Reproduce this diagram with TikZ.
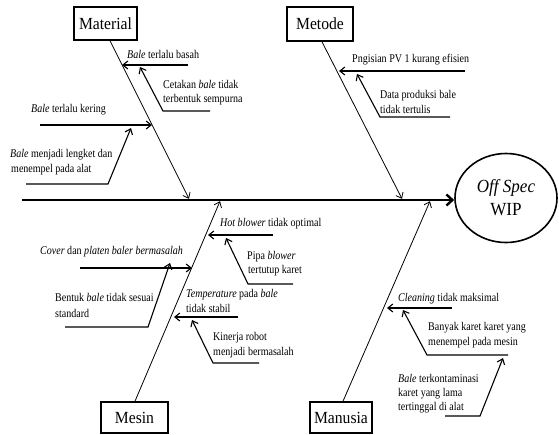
\documentclass[tikz,border=0pt]{standalone}
\usepackage{fontspec}
\setmainfont{Liberation Serif}[FakeStretch=0.92]
\newfontfamily\causefont{Liberation Serif}[FakeStretch=0.85]
\usetikzlibrary{arrows.meta,shapes.geometric}
\begin{document}
\begin{tikzpicture}[x=1pt,y=-1pt,
  catbox/.style={draw,line width=1.6pt,inner sep=0pt,font=\fontsize{17}{20}\selectfont},
  bone/.style={line width=0.8pt,-{Straight Barb[length=5pt,width=8pt]}},
  sub/.style={line width=1.1pt,-{Straight Barb[length=5pt,width=8pt]}},
  lbl/.style={anchor=base west,inner sep=0pt,font=\causefont\fontsize{11.8}{14}\selectfont},
]
\useasboundingbox (0,0) rectangle (559,434);
% category boxes
\node[catbox,minimum width=63pt,minimum height=33pt] (material) at (105.5,23.5) {Material};
\node[catbox,minimum width=66pt,minimum height=34pt] (metode) at (320,24) {Metode};
\node[catbox,minimum width=67pt,minimum height=31pt] (mesin) at (134.5,417.5) {Mesin};
\node[catbox,minimum width=62pt,minimum height=31pt] (manusia) at (341,417.5) {Manusia};
% effect
\node[draw,ellipse,line width=1.6pt,minimum width=102pt,minimum height=89pt,inner sep=0pt,
      align=center,font=\fontsize{18.5}{23}\selectfont] (effect) at (506,198) {\textit{Off Spec}\\WIP};
% spine
\coordinate (tail) at (22,200);
\draw[line width=2.4pt,-{Straight Barb[length=6pt,width=11pt]}] (tail) -- (tail -| effect.west);
% bones
\coordinate (matTip) at (189,198.8);
\coordinate (metTip) at (402,198.8);
\coordinate (mesTip) at (220,201.2);
\coordinate (manTip) at (430,201.2);
\draw[bone] ([xshift=4.5pt]material.south) -- (matTip);
\draw[bone] ([xshift=2pt]metode.south) -- (metTip);
\draw[bone] ([xshift=0.5pt]mesin.north) -- (mesTip);
\draw[bone] ([xshift=2pt]manusia.north) -- (manTip);
% Material causes
\node[lbl] (t1) at (127,58) {\textit{Bale} terlalu basah};
\coordinate (a1s) at (188,65); \coordinate (a1e) at (122,65);
\draw[sub] (a1s) -- (a1e);
\node[lbl] (t2a) at (163,88) {Cetakan \textit{bale} tidak};
\node[lbl] (t2b) at (163,102) {terbentuk sempurna};
\coordinate (a2s) at (210,111); \coordinate (a2m) at (163,111); \coordinate (a2e) at (140,67);
\draw[sub] (a2s) -- (a2m) -- (a2e);
\node[lbl] (t3) at (31,112) {\textit{Bale} terlalu kering};
\coordinate (a3s) at (40,125); \coordinate (a3e) at (152,125);
\draw[sub] (a3s) -- (a3e);
\node[lbl] (t4a) at (10,157) {\textit{Bale} menjadi lengket dan};
\node[lbl] (t4b) at (11,172) {menempel pada alat};
\coordinate (a4s) at (26,184); \coordinate (a4m) at (108,184); \coordinate (a4e) at (131,128);
\draw[sub] (a4s) -- (a4m) -- (a4e);
% Metode causes
\node[lbl] (t5) at (352,62) {Pngisian PV 1 kurang efisien};
\coordinate (a5s) at (465,71); \coordinate (a5e) at (339,71);
\draw[sub] (a5s) -- (a5e);
\node[lbl] (t6a) at (380,98) {Data produksi bale};
\node[lbl] (t6b) at (380,113) {tidak tertulis};
\coordinate (a6s) at (450,117); \coordinate (a6m) at (380,117); \coordinate (a6e) at (357,74);
\draw[sub] (a6s) -- (a6m) -- (a6e);
% Mesin causes
\node[lbl] (t7) at (220,226) {\textit{Hot blower} tidak optimal};
\coordinate (a7s) at (273,235); \coordinate (a7e) at (208,235);
\draw[sub] (a7s) -- (a7e);
\node[lbl] (t8a) at (247,259) {Pipa \textit{blower}};
\node[lbl] (t8b) at (248,273) {tertutup karet};
\coordinate (a8s) at (293,284); \coordinate (a8m) at (248,284); \coordinate (a8e) at (226,238);
\draw[sub] (a8s) -- (a8m) -- (a8e);
\node[lbl] (t9) at (40,254) {\textit{Cover} dan \textit{platen baler bermasalah}};
\coordinate (a9s) at (80,268); \coordinate (a9e) at (192,268);
\draw[sub] (a9s) -- (a9e);
\node[lbl] (t10a) at (55,301) {Bentuk \textit{bale} tidak sesuai};
\node[lbl] (t10b) at (55,317) {standard};
\coordinate (a10s) at (65,327); \coordinate (a10m) at (148,327); \coordinate (a10e) at (170,263);
\draw[sub] (a10s) -- (a10m) -- (a10e);
\node[lbl] (t11a) at (186,297) {\textit{Temperature} pada \textit{bale}};
\node[lbl] (t11b) at (186,312) {tidak stabil};
\coordinate (a11s) at (238,317); \coordinate (a11e) at (174,317);
\draw[sub] (a11s) -- (a11e);
\node[lbl] (t12a) at (213,340) {Kinerja robot};
\node[lbl] (t12b) at (213,355) {menjadi bermasalah};
\coordinate (a12s) at (259,363); \coordinate (a12m) at (213,363); \coordinate (a12e) at (192,320);
\draw[sub] (a12s) -- (a12m) -- (a12e);
% Manusia causes
\node[lbl] (t13) at (398,301) {\textit{Cleaning} tidak maksimal};
\coordinate (a13s) at (452,308); \coordinate (a13e) at (387,308);
\draw[sub] (a13s) -- (a13e);
\node[lbl] (t14a) at (428,330) {Banyak karet karet yang};
\node[lbl] (t14b) at (428,345) {menempel pada mesin};
\coordinate (a14s) at (508,355); \coordinate (a14m) at (427,355); \coordinate (a14e) at (403,310);
\draw[sub] (a14s) -- (a14m) -- (a14e);
\node[lbl] (t15a) at (398,382) {\textit{Bale} terkontaminasi};
\node[lbl] (t15b) at (398,396) {karet yang lama};
\node[lbl] (t15c) at (398,410) {tertinggal di alat};
\coordinate (a15s) at (445,416); \coordinate (a15m) at (480,416); \coordinate (a15e) at (503,358);
\draw[sub] (a15s) -- (a15m) -- (a15e);
\end{tikzpicture}
\end{document}
